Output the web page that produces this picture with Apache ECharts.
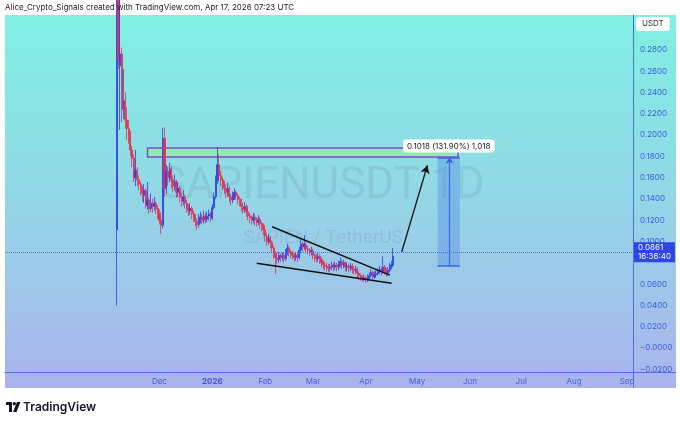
<!DOCTYPE html>
<html>
<head>
<meta charset="utf-8">
<style>
  html, body { margin: 0; padding: 0; background: #fff; }
  #bg { position: absolute; left: 5px; top: 15px; width: 671px; height: 373px;
        background: linear-gradient(180deg, #80f0e2 0%, #93d6e6 50%, #abb3ec 100%); }
  #container { position: absolute; left: 0; top: 0; width: 680px; height: 423px; }
</style>
</head>
<body>
<div id="bg"></div>
<div id="container"></div>
<script src="https://cdn.jsdelivr.net/npm/echarts@6/dist/echarts.min.js"></script>
<script>
// axis runs past the data so the projection has room on the right
var axisStart = '2025-09-02';
var axisEnd = '2026-09-04';
var candleStart = '2025-11-06';

// month ticks shown on the time axis
var monthTicks = ['2025-12-01', '2026-01-01', '2026-02-01', '2026-03-01', '2026-04-01',
                  '2026-05-01', '2026-06-01', '2026-07-01', '2026-08-01', '2026-09-01'];
var monthLabels = ['Dec', '2026', 'Feb', 'Mar', 'Apr', 'May', 'Jun', 'Jul', 'Aug', 'Sep'];

// price axis labels (0.08 sits under the last-price tag)
var priceTicks = [-0.02, 0, 0.02, 0.04, 0.06, 0.10, 0.12, 0.14, 0.16, 0.18,
                  0.20, 0.22, 0.24, 0.26, 0.28];

// daily candles: [open, close, low, high]
var candles = [
  [0.111, 0.330, 0.040, 0.400], [0.330, 0.270, 0.262, 0.380], [0.265, 0.276, 0.205, 0.350],
  [0.276, 0.224, 0.212, 0.282], [0.224, 0.232, 0.215, 0.262], [0.232, 0.214, 0.206, 0.240],
  [0.214, 0.206, 0.195, 0.226], [0.206, 0.200, 0.192, 0.214], [0.200, 0.186, 0.180, 0.204],
  [0.186, 0.178, 0.170, 0.190], [0.178, 0.160, 0.156, 0.182], [0.160, 0.167, 0.152, 0.186],
  [0.167, 0.158, 0.152, 0.170], [0.158, 0.154, 0.148, 0.162], [0.154, 0.150, 0.143, 0.156],
  [0.150, 0.145, 0.138, 0.152], [0.143, 0.148, 0.136, 0.154], [0.148, 0.134, 0.131, 0.150],
  [0.134, 0.139, 0.130, 0.156], [0.139, 0.131, 0.126, 0.142], [0.131, 0.136, 0.128, 0.145],
  [0.136, 0.133, 0.127, 0.140], [0.133, 0.136, 0.129, 0.142], [0.136, 0.131, 0.126, 0.138],
  [0.131, 0.127, 0.121, 0.134], [0.127, 0.120, 0.116, 0.130], [0.120, 0.115, 0.107, 0.123],
  [0.115, 0.197, 0.112, 0.207], [0.197, 0.150, 0.142, 0.207], [0.150, 0.166, 0.145, 0.172],
  [0.166, 0.160, 0.152, 0.170], [0.160, 0.168, 0.156, 0.174], [0.168, 0.158, 0.150, 0.171],
  [0.158, 0.152, 0.146, 0.162], [0.152, 0.156, 0.148, 0.163], [0.156, 0.146, 0.141, 0.158],
  [0.146, 0.150, 0.142, 0.155], [0.150, 0.142, 0.137, 0.152], [0.142, 0.138, 0.133, 0.146],
  [0.138, 0.142, 0.134, 0.148], [0.142, 0.136, 0.131, 0.144], [0.136, 0.132, 0.127, 0.139],
  [0.132, 0.129, 0.124, 0.135], [0.129, 0.131, 0.125, 0.136], [0.131, 0.126, 0.121, 0.133],
  [0.126, 0.123, 0.118, 0.129], [0.123, 0.119, 0.114, 0.126], [0.119, 0.116, 0.111, 0.122],
  [0.116, 0.121, 0.113, 0.126], [0.121, 0.123, 0.117, 0.128], [0.123, 0.120, 0.116, 0.126],
  [0.120, 0.124, 0.117, 0.129], [0.124, 0.121, 0.117, 0.127], [0.121, 0.124, 0.118, 0.128],
  [0.124, 0.126, 0.120, 0.130], [0.126, 0.122, 0.118, 0.128], [0.122, 0.132, 0.120, 0.135],
  [0.132, 0.142, 0.130, 0.146], [0.142, 0.157, 0.140, 0.162], [0.157, 0.172, 0.154, 0.189],
  [0.172, 0.162, 0.157, 0.182], [0.162, 0.158, 0.152, 0.166], [0.158, 0.154, 0.148, 0.160],
  [0.154, 0.150, 0.145, 0.157], [0.150, 0.146, 0.141, 0.153], [0.146, 0.150, 0.142, 0.155],
  [0.150, 0.142, 0.137, 0.152], [0.142, 0.139, 0.134, 0.145], [0.139, 0.142, 0.136, 0.147],
  [0.142, 0.146, 0.139, 0.150], [0.146, 0.143, 0.139, 0.148], [0.143, 0.140, 0.135, 0.145],
  [0.140, 0.137, 0.133, 0.142], [0.137, 0.133, 0.128, 0.140], [0.133, 0.130, 0.126, 0.136],
  [0.130, 0.133, 0.127, 0.137], [0.133, 0.128, 0.123, 0.135], [0.128, 0.124, 0.120, 0.131],
  [0.124, 0.122, 0.117, 0.127], [0.122, 0.120, 0.116, 0.125], [0.120, 0.123, 0.117, 0.127],
  [0.123, 0.120, 0.115, 0.126], [0.120, 0.118, 0.114, 0.123], [0.118, 0.121, 0.115, 0.125],
  [0.121, 0.117, 0.112, 0.123], [0.117, 0.115, 0.110, 0.119], [0.115, 0.111, 0.106, 0.117],
  [0.111, 0.105, 0.100, 0.113], [0.105, 0.100, 0.096, 0.108], [0.100, 0.103, 0.097, 0.107],
  [0.103, 0.099, 0.094, 0.105], [0.099, 0.094, 0.090, 0.101], [0.094, 0.089, 0.084, 0.096],
  [0.089, 0.085, 0.070, 0.091], [0.085, 0.083, 0.079, 0.088], [0.083, 0.087, 0.080, 0.090],
  [0.087, 0.085, 0.081, 0.089], [0.085, 0.087, 0.082, 0.090], [0.087, 0.084, 0.080, 0.089],
  [0.084, 0.090, 0.082, 0.093], [0.090, 0.094, 0.087, 0.098], [0.094, 0.090, 0.086, 0.096],
  [0.090, 0.088, 0.084, 0.092], [0.088, 0.087, 0.083, 0.091], [0.087, 0.085, 0.081, 0.089],
  [0.085, 0.087, 0.082, 0.090], [0.087, 0.085, 0.081, 0.089], [0.085, 0.092, 0.083, 0.095],
  [0.092, 0.098, 0.089, 0.103], [0.098, 0.095, 0.091, 0.100], [0.095, 0.097, 0.092, 0.106],
  [0.097, 0.093, 0.089, 0.099], [0.093, 0.092, 0.088, 0.096], [0.092, 0.090, 0.086, 0.094],
  [0.090, 0.091, 0.087, 0.095], [0.091, 0.087, 0.083, 0.093], [0.087, 0.085, 0.081, 0.089],
  [0.085, 0.084, 0.080, 0.088], [0.084, 0.086, 0.081, 0.089], [0.086, 0.083, 0.079, 0.088],
  [0.083, 0.080, 0.076, 0.085], [0.080, 0.078, 0.074, 0.082], [0.078, 0.077, 0.073, 0.081],
  [0.077, 0.076, 0.072, 0.080], [0.076, 0.075, 0.071, 0.079], [0.075, 0.076, 0.072, 0.079],
  [0.076, 0.078, 0.073, 0.081], [0.078, 0.076, 0.072, 0.080], [0.076, 0.078, 0.073, 0.081],
  [0.078, 0.076, 0.072, 0.080], [0.076, 0.079, 0.073, 0.082], [0.079, 0.081, 0.076, 0.085],
  [0.081, 0.078, 0.074, 0.083], [0.078, 0.080, 0.075, 0.083], [0.080, 0.076, 0.072, 0.081],
  [0.076, 0.077, 0.072, 0.080], [0.077, 0.075, 0.071, 0.079], [0.075, 0.077, 0.072, 0.080],
  [0.077, 0.074, 0.070, 0.079], [0.074, 0.073, 0.069, 0.077], [0.073, 0.074, 0.070, 0.077],
  [0.074, 0.070, 0.066, 0.076], [0.070, 0.068, 0.064, 0.072], [0.068, 0.066, 0.063, 0.070],
  [0.066, 0.065, 0.062, 0.068], [0.065, 0.066, 0.063, 0.069], [0.066, 0.064, 0.061, 0.068],
  [0.064, 0.066, 0.062, 0.069], [0.066, 0.068, 0.064, 0.071], [0.068, 0.071, 0.066, 0.074],
  [0.071, 0.067, 0.064, 0.073], [0.067, 0.069, 0.065, 0.072], [0.069, 0.070, 0.066, 0.073],
  [0.070, 0.072, 0.068, 0.075], [0.072, 0.074, 0.069, 0.077], [0.074, 0.072, 0.068, 0.076],
  [0.072, 0.076, 0.070, 0.086], [0.076, 0.073, 0.069, 0.078], [0.073, 0.070, 0.067, 0.075],
  [0.070, 0.073, 0.068, 0.076], [0.073, 0.077, 0.071, 0.080], [0.077, 0.078, 0.074, 0.082],
  [0.078, 0.0861, 0.076, 0.0939]
];

var lastPrice = 0.0861;
var lastTimer = '16:36:40';

// drawings, positions given as [candle index from candleStart, price]
var zoneDays = [18, 200];
var zonePrices = [0.1878, 0.1793];
var wedgeUpper = [[91, 0.1139], [160, 0.0685]];
var wedgeLower = [[82, 0.0795], [161, 0.0608]];
var projArrow = [[167, 0.0904], [182, 0.1715]];
var measureDays = [188, 201, 195];
var measurePrices = [0.0772, 0.1790];
var measureText = '0.1018 (131.90%) 1,018';

function dayList(a, b) {
  var out = [];
  var t = Date.parse(a + 'T00:00:00Z');
  var e = Date.parse(b + 'T00:00:00Z');
  for (; t <= e; t += 86400000) out.push(new Date(t).toISOString().slice(0, 10));
  return out;
}
var dates = dayList(axisStart, axisEnd);
var off = dates.indexOf(candleStart);
function day(k) { return dates[off + k]; }
function pt(p) { return { coord: [day(p[0]), p[1]] }; }

var seriesData = candles.map(function (c, i) {
  return [day(i), c[0], c[1], c[2], c[3]];
});

var blue = '#4d6fe0';
var black = '#111';

var dom = document.getElementById('container');
var myChart = echarts.init(dom, null, { renderer: 'canvas' });

var option = {
  animation: false,
  backgroundColor: 'transparent',
  textStyle: { fontFamily: 'Inter, "Noto Sans", sans-serif' },
  title: [
    {
      text: 'Alice_Crypto_Signals created with TradingView.com, Apr 17, 2026 07:23 UTC',
      left: 3, top: 2, padding: 2,
      textStyle: { fontSize: 8, fontWeight: 'normal', color: '#222' }
    },
    {
      text: 'USDT', left: 636, top: 17,
      backgroundColor: '#fff', borderRadius: 3, padding: [3, 6, 3, 6],
      textStyle: { fontSize: 8, fontWeight: 'normal', color: '#333' }
    }
  ],
  grid: { left: 5, right: 47, top: 15, bottom: 51 },
  xAxis: {
    type: 'category',
    data: dates,
    boundaryGap: true,
    axisLine: { show: true, onZero: false, lineStyle: { color: blue, width: 1 } },
    axisTick: { show: false },
    splitLine: { show: false },
    axisLabel: {
      margin: 6,
      fontSize: 8,
      color: '#4b5fd8',
      interval: function (index, value) { return monthTicks.indexOf(value) >= 0; },
      formatter: function (value) {
        var lab = monthLabels[monthTicks.indexOf(value)];
        return lab === '2026' ? '{b|' + lab + '}' : lab;
      },
      rich: { b: { fontWeight: 'bold', fontSize: 8, color: '#3f52d0' } }
    }
  },
  yAxis: {
    type: 'value',
    position: 'right',
    min: -0.0225,
    max: 0.3127,
    axisLine: { show: true, lineStyle: { color: blue, width: 1 } },
    axisTick: { show: false },
    splitLine: { show: false },
    axisLabel: {
      customValues: priceTicks,
      margin: 7,
      fontSize: 8,
      color: '#3d5fe0',
      formatter: function (v) {
        if (Math.abs(v) < 1e-9) return '\u22120.0000';
        return v < 0 ? '\u2212' + Math.abs(v).toFixed(4) : v.toFixed(4);
      }
    }
  },
  graphic: [
    { type: 'text', x: 322, y: 187, z: 0, silent: true,
      style: { text: 'SAPIENUSDT 1D', font: '44px Roboto', fill: 'rgba(90,110,130,0.14)',
               align: 'center', verticalAlign: 'middle', textAlign: 'center', textVerticalAlign: 'middle' } },
    { type: 'text', x: 323, y: 238, z: 0, silent: true,
      style: { text: 'SAPIEN / TetherUS', font: '19px Roboto', fill: 'rgba(90,110,130,0.14)',
               align: 'center', verticalAlign: 'middle', textAlign: 'center', textVerticalAlign: 'middle' } },
    { type: 'line', shape: { x1: 633, y1: 372.5, x2: 676, y2: 372.5 }, style: { stroke: blue, lineWidth: 1 } },
    { type: 'line', shape: { x1: 633.5, y1: 372, x2: 633.5, y2: 388 }, style: { stroke: blue, lineWidth: 1 } },
    // TradingView footer
    { type: 'rect', shape: { x: 6, y: 402, width: 6, height: 3 }, style: { fill: '#131722' } },
    { type: 'rect', shape: { x: 9, y: 402, width: 3, height: 10 }, style: { fill: '#131722' } },
    { type: 'circle', shape: { cx: 14.3, cy: 403.8, r: 1.7 }, style: { fill: '#131722' } },
    { type: 'polygon', shape: { points: [[17, 402], [20.5, 402], [16.5, 412], [13, 412]] }, style: { fill: '#131722' } },
    { type: 'text', x: 23, y: 407,
      style: { text: 'TradingView', font: '600 12px Inter', fill: '#131722',
               verticalAlign: 'middle', textVerticalAlign: 'middle' } }
  ],
  series: [
    {
      type: 'candlestick',
      data: seriesData,
      encode: { x: 0, y: [1, 2, 3, 4] },
      barWidth: '95%',
      itemStyle: {
        color: '#2b40ee', color0: '#e6304c',
        borderColor: '#2b40ee', borderColor0: '#e6304c',
        borderWidth: 0.8
      },
      markArea: {
        silent: true,
        data: [
          [
            { coord: [day(zoneDays[0]), zonePrices[0]],
              itemStyle: { color: '#96e6b8', opacity: 1, borderColor: '#7b4fc8', borderWidth: 1.5 } },
            { coord: [day(zoneDays[1]), zonePrices[1]] }
          ],
          [
            { coord: [day(measureDays[0]), measurePrices[1]],
              itemStyle: { color: 'rgba(70,120,235,0.33)', opacity: 1 },
              label: {
                show: true, position: 'top', distance: 5,
                formatter: measureText,
                backgroundColor: '#fff', color: '#222', fontSize: 8,
                padding: [3, 4, 2, 4], borderRadius: 3
              } },
            { coord: [day(measureDays[1]), measurePrices[0]] }
          ]
        ]
      },
      markLine: {
        silent: true,
        symbol: ['none', 'none'],
        label: { show: false },
        data: [
          {
            yAxis: lastPrice,
            lineStyle: { type: 'dotted', color: blue, width: 1 },
            label: {
              show: true, position: 'end', distance: 1,
              formatter: lastPrice.toFixed(4) + '\n' + lastTimer,
              backgroundColor: '#2d44e6', color: '#fff', fontSize: 8,
              lineHeight: 9, padding: [1, 4, 1, 4], align: 'left'
            }
          },
          [pt(wedgeUpper[0]), pt(wedgeUpper[1])].map(function (p) {
            p.lineStyle = { color: black, width: 1.5, type: 'solid' }; return p;
          }),
          [pt(wedgeLower[0]), pt(wedgeLower[1])].map(function (p) {
            p.lineStyle = { color: black, width: 1.5, type: 'solid' }; return p;
          }),
          [
            Object.assign(pt(projArrow[0]), { lineStyle: { color: black, width: 1.3, type: 'solid' } }),
            Object.assign(pt(projArrow[1]), { symbol: 'arrow', symbolSize: [7, 8] })
          ],
          [
            { coord: [day(measureDays[0]), measurePrices[1]], lineStyle: { color: '#3a66e0', width: 1.5, type: 'solid' } },
            { coord: [day(measureDays[1]), measurePrices[1]] }
          ],
          [
            { coord: [day(measureDays[0]), measurePrices[0]], lineStyle: { color: '#3a66e0', width: 1.5, type: 'solid' } },
            { coord: [day(measureDays[1]), measurePrices[0]] }
          ],
          [
            { coord: [day(measureDays[2]), measurePrices[0]], lineStyle: { color: '#3a66e0', width: 1.2, type: 'solid' } },
            { coord: [day(measureDays[2]), measurePrices[1]], symbol: 'arrow', symbolSize: [6, 6] }
          ]
        ]
      }
    }
  ]
};

myChart.setOption(option);
window.addEventListener('resize', myChart.resize);
</script>
</body>
</html>
